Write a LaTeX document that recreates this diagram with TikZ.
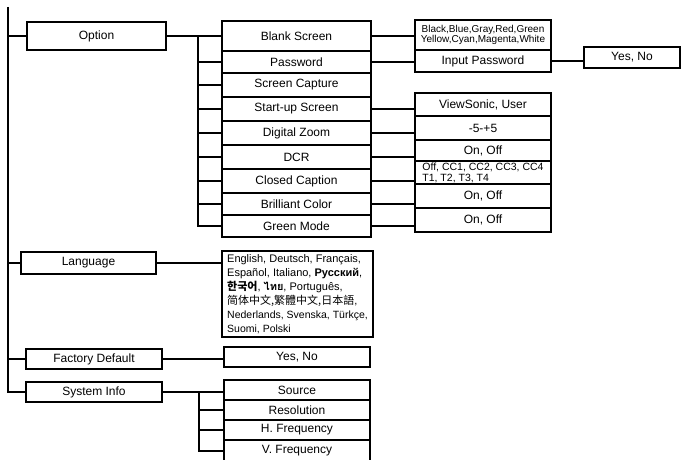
\documentclass[tikz,border=0pt]{standalone}
\usepackage{fontspec}
\setmainfont{Liberation Sans}
\newfontfamily\cjkfont{Noto Sans CJK SC}
\newfontfamily\korfont{Noto Sans CJK KR}
\newfontfamily\thaifont[Script=Thai]{Loma}
\usetikzlibrary{positioning}

\begin{document}
\begin{tikzpicture}[
            x=1pt, y=-1pt,
            line width=1.9pt,
            node distance=0pt,
            box/.style={
                draw,
                line width=1.7pt,
                inner sep=0pt,
                outer sep=0pt,
                align=center,
                font=\fontsize{12}{14}\selectfont
            },
            menu/.style={box, minimum width=136pt, minimum height=20pt},
            item/.style={box, minimum width=149pt},
            value/.style={box, minimum width=136pt},
            small/.style={font=\fontsize{10}{10.5}\selectfont}
        ]
        \useasboundingbox (0,0) rectangle (681,460);

        % left menu
        \coordinate (top) at (8,7);
        \node[menu, minimum width=139pt, minimum height=28pt] (option) at (96.5,36) {Option};
        \node[menu, minimum width=135pt, minimum height=22pt] (language) at (88.5,263) {Language};
        \node[menu] (factory) at (94,359) {Factory Default};
        \node[menu] (sysinfo) at (94,392) {System Info};

        \draw (top) |- (sysinfo.west);
        \foreach \n in {option, language, factory}
            \draw (\n.west -| top) -- (\n.west);

        % option items
        \node[item, minimum height=30pt] (blank) at (296.5,36) {Blank Screen};
        \node[item, minimum height=22pt, below=of blank] (password) {Password};
        \node[item, minimum height=24pt, below=of password] (capture) {Screen Capture};
        \node[item, minimum height=24pt, below=of capture] (startup) {Start-up Screen};
        \node[item, minimum height=24pt, below=of startup] (zoom) {Digital Zoom};
        \node[item, minimum height=24pt, below=of zoom] (dcr) {DCR};
        \node[item, minimum height=24pt, below=of dcr] (caption) {Closed Caption};
        \node[item, minimum height=22pt, below=of caption] (brilliant) {Brilliant Color};
        \node[item, minimum height=22pt, below=of brilliant] (green) {Green Mode};

        \coordinate (obus) at (198,37);
        \draw (option.east) -- (option.east -| blank.west);
        \draw (obus) |- (green.west);
        \foreach \n in {password, capture, startup, zoom, dcr, caption, brilliant}
            \draw (\n.west -| obus) -- (\n.west);

        % option values
        \node[value, small, minimum height=30pt] (colors) at (483,35) {Black,Blue,Gray,Red,Green\\Yellow,Cyan,Magenta,White};
        \node[value, minimum height=22pt, below=of colors] (inputpw) {Input Password};
        \node[box, minimum width=96pt, minimum height=21pt] (pwyesno) at (632,57.5) {Yes, No};

        \node[value, minimum height=23pt] (vsuser) at (483,104.5) {ViewSonic, User};
        \node[value, minimum height=24pt, below=of vsuser] (zoomval) {-5-+5};
        \node[value, minimum height=21pt, below=of zoomval] (dcrval) {On, Off};
        \node[value, align=left, minimum height=23pt, below=of dcrval,
            font=\fontsize{10.5}{11}\selectfont] (ccval) {Off, CC1, CC2, CC3, CC4\\T1, T2, T3, T4};
        \node[value, minimum height=24pt, below=of ccval] (brval) {On, Off};
        \node[value, minimum height=24pt, below=of brval] (greenval) {On, Off};

        \draw (blank.east) -- (blank.east -| colors.west);
        \draw (password.east) -- (password.east -| inputpw.west);
        \draw (inputpw.east) -- (inputpw.east -| pwyesno.west);
        \draw (startup.east) -- (startup.east -| vsuser.west);
        \draw (zoom.east) -- (zoom.east -| zoomval.west);
        \draw (dcr.east) -- (dcr.east -| dcrval.west);
        \draw (caption.east) -- (caption.east -| ccval.west);
        \draw (brilliant.east) -- (brilliant.east -| brval.west);
        \draw (green.east) -- (green.east -| greenval.west);

        % language
        \node[box, align=left, minimum width=151pt, minimum height=86pt,
            font=\fontsize{11}{14}\selectfont] (langs) at (297.5,294)
            {English, Deutsch, Français,\\
             Español, Italiano, \textbf{Русский},\\
             {\korfont\bfseries 한국어}, {\thaifont\bfseries ไทย}, Português,\\
             {\cjkfont\fontsize{11}{13}\selectfont 简体中文,繁體中文,日本語},\\
             {\fontsize{10.5}{12}\selectfont Nederlands, Svenska, Türkçe,}\\
             {\fontsize{10.5}{12}\selectfont Suomi, Polski}};
        \draw (language.east) -- (language.east -| langs.west);

        % factory default
        \node[box, minimum width=146pt, minimum height=20pt] (factval) at (297,357) {Yes, No};
        \draw (factory.east) -- (factory.east -| factval.west);

        % system info
        \node[box, minimum width=146pt, minimum height=20pt] (source) at (297,390) {Source};
        \node[box, minimum width=146pt, minimum height=20pt, below=of source] (resolution) {Resolution};
        \node[box, minimum width=146pt, minimum height=20pt, below=of resolution] (hfreq) {H. Frequency};
        \node[box, minimum width=146pt, minimum height=22pt, below=of hfreq] (vfreq) {V. Frequency};

        \coordinate (sbus) at (199,392);
        \draw (sysinfo.east) -- (sysinfo.east -| source.west);
        \draw (sbus) |- (vfreq.west);
        \foreach \n in {resolution, hfreq}
            \draw (\n.west -| sbus) -- (\n.west);
        \end{tikzpicture}
\end{document}
